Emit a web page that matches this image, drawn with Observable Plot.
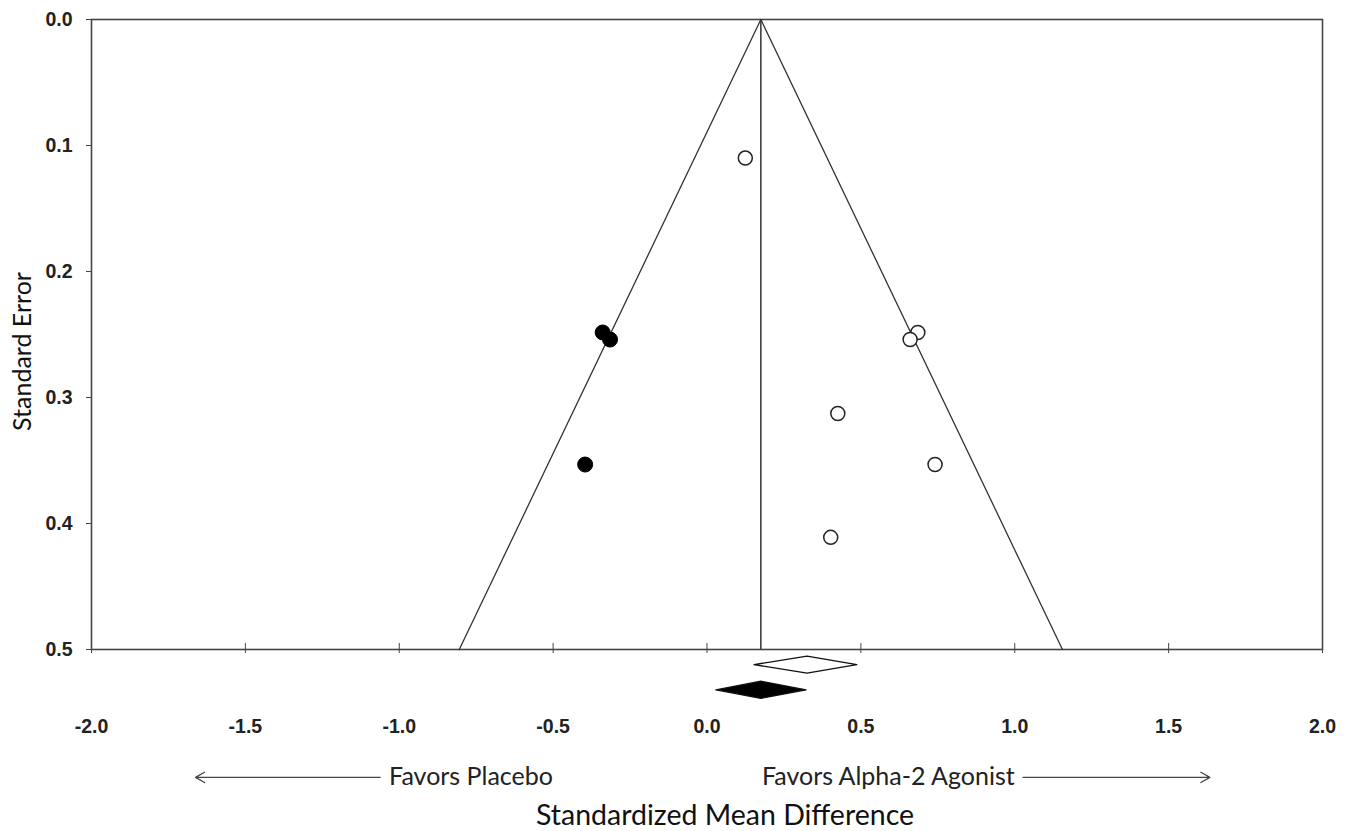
<!DOCTYPE html>
<html><head><meta charset="utf-8">
<script src="https://cdn.jsdelivr.net/npm/d3@7"></script>
<script src="https://cdn.jsdelivr.net/npm/@observablehq/plot@0.6"></script>
<style>body{margin:0;background:#fff}#chart svg{display:block}</style>
</head><body><div id="chart"></div>
<script>
// Observed studies (open circles)
const observedSMD = [0.1245, 0.685, 0.660, 0.425, 0.741, 0.402];
const observedSE  = [0.110, 0.2484, 0.254, 0.3127, 0.3532, 0.411];
// Imputed studies from trim-and-fill (filled circles)
const imputedSMD = [-0.339, -0.315, -0.396];
const imputedSE  = [0.2484, 0.254, 0.3532];
// Summary estimates (diamonds)
const summaryLabels = ["Observed", "Adjusted"];
const summaryEst    = [0.325, 0.175];
const summaryLower  = [0.153, 0.029];
const summaryUpper  = [0.487, 0.322];
const summaryFill   = ["white", "black"];
const summaryRow    = [0.512, 0.532];   // slot below the axis, in SE units
const diamondHalf   = 0.0068;
// Funnel centre
const funnelCentre = 0.175;
const funnelMaxSE = 0.5;
// Axis ticks
const xTicks = [-2, -1.5, -1, -0.5, 0, 0.5, 1, 1.5, 2];
const yTicks = [0, 0.1, 0.2, 0.3, 0.4, 0.5];
// Direction annotations
const arrowLabels = ["Favors Placebo", "Favors Alpha-2 Agonist"];
const arrowLabelX = [-1.033, 1.0];
const arrowFrom = [-1.062, 1.027];
const arrowTo   = [-1.662, 1.634];
const arrowRow  = 0.6015;

const observed = observedSMD.map((x, i) => ({x, se: observedSE[i]}));
const imputed = imputedSMD.map((x, i) => ({x, se: imputedSE[i]}));
const funnel = [
  {x: funnelCentre - 1.96 * funnelMaxSE, se: funnelMaxSE},
  {x: funnelCentre, se: 0},
  {x: funnelCentre + 1.96 * funnelMaxSE, se: funnelMaxSE}
];
const diamonds = summaryLabels.flatMap((k, i) => {
  const r = summaryRow[i];
  return [
    {k, x: summaryLower[i], se: r, fill: summaryFill[i]},
    {k, x: summaryEst[i], se: r - diamondHalf, fill: summaryFill[i]},
    {k, x: summaryUpper[i], se: r, fill: summaryFill[i]},
    {k, x: summaryEst[i], se: r + diamondHalf, fill: summaryFill[i]},
    {k, x: summaryLower[i], se: r, fill: summaryFill[i]}
  ];
});
const arrows = arrowLabels.map((t, i) => ({t, x1: arrowFrom[i], x2: arrowTo[i], lx: arrowLabelX[i]}));

const fmt = d => d.toFixed(1);
const tickFont = {fontFamily: "Liberation Sans, Arial, sans-serif", fontWeight: "bold", fontSize: 19.5};
const labelFont = "Lato, 'Open Sans', sans-serif";

const chart = Plot.plot({
  width: 1353,
  height: 831,
  marginLeft: 91,
  marginRight: 31,
  marginTop: 19,
  marginBottom: 182,
  style: {background: "white", color: "#222", overflow: "visible"},
  x: {domain: [-2, 2], label: null},
  y: {domain: [0, 0.5], reverse: true, label: null},
  marks: [
    Plot.frame({stroke: "#444", strokeWidth: 1.6}),
    // y axis
    Plot.axisY({ticks: yTicks, tickFormat: fmt, tickSize: 5, tickPadding: 14, stroke: "#444", ...tickFont, fill: "#222"}),
    // x axis ticks (crossing the axis) and labels
    Plot.axisX({ticks: xTicks, tickSize: 4, tickFormat: () => "", stroke: "#444"}),
    Plot.axisX({ticks: xTicks, tickSize: -6, tickFormat: () => "", stroke: "#444"}),
    Plot.axisX({ticks: xTicks, tickSize: 0, tickPadding: 70, tickFormat: fmt, ...tickFont, fill: "#222"}),
    // funnel
    Plot.line(funnel, {x: "x", y: "se", stroke: "#333", strokeWidth: 1.3}),
    Plot.ruleX([funnelCentre], {y1: 0, y2: funnelMaxSE, stroke: "#333", strokeWidth: 1.5}),
    // studies
    Plot.dot(observed, {x: "x", y: "se", r: 7, fill: "white", stroke: "#222", strokeWidth: 1.5}),
    Plot.dot(imputed, {x: "x", y: "se", r: 7.5, fill: "black", stroke: "black", strokeWidth: 1}),
    // summary diamonds
    Plot.line(diamonds, {x: "x", y: "se", z: "k", fill: "fill", stroke: "#111", strokeWidth: 1.3, curve: "linear"}),
    // direction arrows
    Plot.arrow(arrows, {x1: "x1", x2: "x2", y1: arrowRow, y2: arrowRow, stroke: "#444", strokeWidth: 1.2, headLength: 13, headAngle: 60}),
    Plot.text(arrows.slice(0, 1), {x: "lx", y: arrowRow, text: "t", textAnchor: "start", fontFamily: labelFont, fontSize: 25, fill: "#222", dy: 0}),
    Plot.text(arrows.slice(1), {x: "lx", y: arrowRow, text: "t", textAnchor: "end", fontFamily: labelFont, fontSize: 25, fill: "#222", dy: 0}),
    // axis titles
    Plot.text(["Standardized Mean Difference"], {frameAnchor: "bottom", dx: 18, dy: 175, fontFamily: labelFont, fontSize: 28.5, fill: "#111"}),
    Plot.text(["Standard Error"], {frameAnchor: "left", textAnchor: "middle", dx: -69, dy: 17, rotate: -90, fontFamily: labelFont, fontSize: 25, fill: "#111"})
  ]
});
document.getElementById("chart").appendChild(chart);
</script>
</body></html>
